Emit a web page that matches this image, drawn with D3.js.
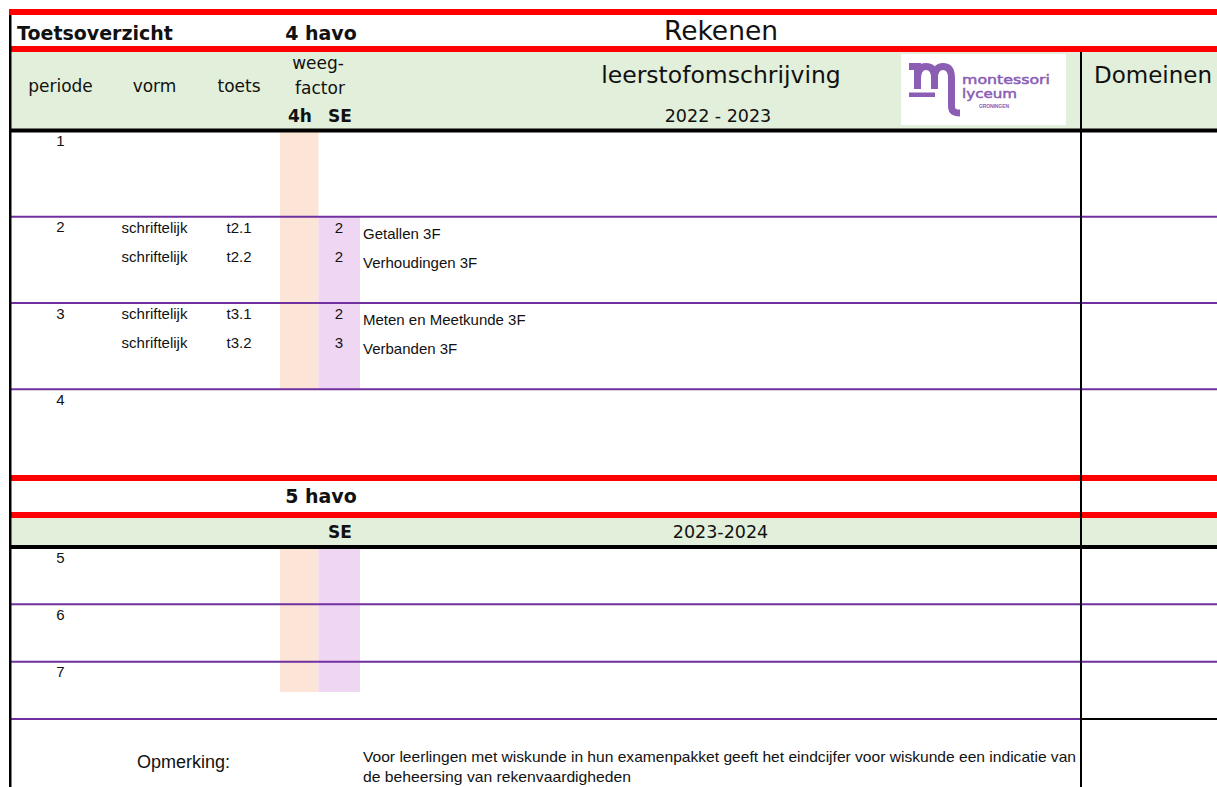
<!DOCTYPE html>
<html>
<head>
<meta charset="utf-8">
<script src="https://cdn.jsdelivr.net/npm/d3@7"></script>
<style>
  html, body { margin: 0; padding: 0; background: #ffffff; }
  svg { display: block; }
</style>
</head>
<body>
<svg id="chart" width="1217" height="787"></svg>
<script>
// ---------------- data ----------------
const title = "Rekenen";
const sheetTitle = "Toetsoverzicht";
const yearLabels = ["4 havo", "5 havo"];
const schoolYears = ["2022 - 2023", "2023-2024"];
const headerCols = ["periode", "vorm", "toets"];
const periods4 = ["1", "2", "3", "4"];
const periods5 = ["5", "6", "7"];
const testPeriod = ["2", "2", "3", "3"];
const testSlot = [0, 1, 0, 1];
const vorm = ["schriftelijk", "schriftelijk", "schriftelijk", "schriftelijk"];
const toets = ["t2.1", "t2.2", "t3.1", "t3.2"];
const weegSE = [2, 2, 2, 3];
const omschrijving = ["Getallen 3F", "Verhoudingen 3F", "Meten en Meetkunde 3F", "Verbanden 3F"];
const opmerkingLabel = "Opmerking:";
const opmerkingLines = [
  "Voor leerlingen met wiskunde in hun examenpakket geeft het eindcijfer voor wiskunde een indicatie van",
  "de beheersing van rekenvaardigheden"
];

// ---------------- layout ----------------
const W = 1217, H = 787;
const C = {
  red: "#ff0000", green: "#e2efda", peach: "#fce4d6", lilac: "#efd6f2",
  purple: "#7030a0", black: "#000000", logo: "#8b5db3", text: "#111111"
};
const HEAD = "'DejaVu Sans', Verdana, sans-serif";
const BODY = "'Liberation Sans', Arial, sans-serif";

const svg = d3.select("#chart");
const g = svg.append("g");

// row scales
const y4 = d3.scaleBand().domain(periods4).range([130.5, 475.5]);
const y5 = d3.scaleBand().domain(periods5).range([547, 719]);
// column scale
const colX = d3.scaleOrdinal()
  .domain(["periode", "vorm", "toets", "4h", "SE", "weight", "omschr", "mid", "dom"])
  .range([60.5, 154.5, 239, 300, 340, 343, 363, 721, 1094]);
const xLeft = 11, xDom = 1081, xRight = W;

// ---------------- backgrounds ----------------
g.append("rect").attr("x", xLeft).attr("y", 52).attr("width", xRight - xLeft).attr("height", 77).attr("fill", C.green);
g.append("rect").attr("x", xLeft).attr("y", 518).attr("width", xRight - xLeft).attr("height", 28).attr("fill", C.green);

const xPeach0 = 280, xPeach1 = 318.5, xLilac1 = 360;
g.append("rect").attr("x", xPeach0).attr("y", y4("1")).attr("width", xPeach1 - xPeach0)
  .attr("height", y4("2") - y4("1")).attr("fill", C.peach);
g.append("rect").attr("x", xPeach0).attr("y", y4("2")).attr("width", xPeach1 - xPeach0)
  .attr("height", y4("4") - y4("2")).attr("fill", C.peach);
g.append("rect").attr("x", xPeach1).attr("y", y4("2")).attr("width", xLilac1 - xPeach1)
  .attr("height", y4("4") - y4("2")).attr("fill", C.lilac);
g.append("rect").attr("x", xPeach0).attr("y", y5("5")).attr("width", xPeach1 - xPeach0)
  .attr("height", 692 - y5("5")).attr("fill", C.peach);
g.append("rect").attr("x", xPeach1).attr("y", y5("5")).attr("width", xLilac1 - xPeach1)
  .attr("height", 692 - y5("5")).attr("fill", C.lilac);

// ---------------- header texts ----------------
function txt(x, y, s, size, opts = {}) {
  return g.append("text").attr("x", x).attr("y", y).text(s)
    .attr("font-family", opts.family || HEAD)
    .attr("font-size", size)
    .attr("font-weight", opts.bold ? "bold" : "normal")
    .attr("text-anchor", opts.anchor || "start")
    .attr("fill", opts.fill || C.text);
}
txt(17, 39.5, sheetTitle, 19, { bold: true });
txt(321, 39.5, yearLabels[0], 19, { bold: true, anchor: "middle" });
txt(colX("mid"), 40, title, 26.5, { anchor: "middle" });

g.selectAll("text.hcol").data(headerCols).join("text").attr("class", "hcol")
  .attr("x", d => colX(d)).attr("y", 92).text(d => d)
  .attr("font-family", HEAD).attr("font-size", 17).attr("text-anchor", "middle").attr("fill", C.text);
txt(318, 69, "weeg-", 17, { anchor: "middle" });
txt(320, 94, "factor", 17, { anchor: "middle" });
txt(colX("4h"), 122, "4h", 17, { bold: true, anchor: "middle" });
txt(colX("SE"), 122, "SE", 17, { bold: true, anchor: "middle" });
txt(colX("mid"), 83, "leerstofomschrijving", 23.5, { anchor: "middle" });
txt(718, 122, schoolYears[0], 17.5, { anchor: "middle" });
txt(colX("dom"), 83, "Domeinen", 23, {});

txt(321, 503, yearLabels[1], 19, { bold: true, anchor: "middle" });
txt(colX("SE"), 538, "SE", 17, { bold: true, anchor: "middle" });
txt(720.5, 537.5, schoolYears[1], 17.5, { anchor: "middle" });

// ---------------- logo ----------------
const logo = g.append("g");
logo.append("rect").attr("x", 901).attr("y", 54).attr("width", 165).attr("height", 71).attr("fill", "#ffffff");
const mPath = "M909,66.5 H917.5 V89 M917.5,79 C917.5,70 921,66.5 926,66.5 C931.5,66.5 934.5,70 934.5,78 V89 " +
              "M934.5,78 C934.5,70 938,66.5 943,66.5 C948.5,66.5 951.5,70 951.5,78 V106 C951.5,111 954,113 960,113";
logo.append("path").attr("d", mPath).attr("fill", "none").attr("stroke", C.logo).attr("stroke-width", 7);
logo.append("rect").attr("x", 909).attr("y", 92.5).attr("width", 26).attr("height", 4.5).attr("fill", C.logo);
logo.append("text").attr("x", 962).attr("y", 84).text("montessori")
  .attr("font-family", HEAD).attr("font-size", 13).attr("fill", C.logo)
  .attr("stroke", C.logo).attr("stroke-width", 0.5)
  .attr("textLength", 88).attr("lengthAdjust", "spacingAndGlyphs");
logo.append("text").attr("x", 962).attr("y", 98).text("lyceum")
  .attr("font-family", HEAD).attr("font-size", 13).attr("fill", C.logo)
  .attr("stroke", C.logo).attr("stroke-width", 0.5)
  .attr("textLength", 55).attr("lengthAdjust", "spacingAndGlyphs");
logo.append("text").attr("x", 979).attr("y", 108).text("GRONINGEN")
  .attr("font-family", BODY).attr("font-weight", "bold").attr("font-size", 5).attr("fill", C.logo)
  .attr("textLength", 30);

// ---------------- body rows ----------------
const BS = 15;
g.selectAll("text.p4").data(periods4).join("text").attr("class", "p4")
  .attr("x", colX("periode")).attr("y", d => y4(d) + 15.5).text(d => d)
  .attr("font-family", BODY).attr("font-size", BS).attr("text-anchor", "middle").attr("fill", C.text);
g.selectAll("text.p5").data(periods5).join("text").attr("class", "p5")
  .attr("x", colX("periode")).attr("y", d => y5(d) + 15.5).text(d => d)
  .attr("font-family", BODY).attr("font-size", BS).attr("text-anchor", "middle").attr("fill", C.text);

const tests = toets.map((t, i) => ({ i, period: testPeriod[i], slot: testSlot[i] }));
const lineY = d => y4(d.period) + 16 + d.slot * 29;
const tg = g.selectAll("g.test").data(tests).join("g").attr("class", "test");
tg.append("text").attr("x", colX("vorm")).attr("y", lineY).text(d => vorm[d.i])
  .attr("text-anchor", "middle");
tg.append("text").attr("x", colX("toets")).attr("y", lineY).text(d => toets[d.i])
  .attr("text-anchor", "middle");
tg.append("text").attr("x", colX("weight")).attr("y", lineY).text(d => weegSE[d.i])
  .attr("text-anchor", "end");
tg.append("text").attr("x", colX("omschr")).attr("y", d => lineY(d) + 6).text(d => omschrijving[d.i])
  .attr("text-anchor", "start");
tg.selectAll("text").attr("font-family", BODY).attr("font-size", BS).attr("fill", C.text);

// footer
txt(137, 768, opmerkingLabel, 18, { family: BODY });
const footLens = [713, 268];
g.selectAll("text.foot").data(opmerkingLines).join("text").attr("class", "foot")
  .attr("x", colX("omschr")).attr("y", (d, i) => 762 + i * 20).text(d => d)
  .attr("font-family", BODY).attr("font-size", BS).attr("fill", C.text)
  .attr("textLength", (d, i) => footLens[i]).attr("lengthAdjust", "spacingAndGlyphs");

// ---------------- lines ----------------
const sep4 = periods4.slice(1).map(p => y4(p));
const sep5 = periods5.slice(1).map(p => y5(p));
g.selectAll("line.sep").data(sep4.concat(sep5)).join("line").attr("class", "sep")
  .attr("x1", xLeft).attr("x2", xRight).attr("y1", d => d).attr("y2", d => d)
  .attr("stroke", C.purple).attr("stroke-width", 2);
const yEnd = y5.range()[1];
g.append("line").attr("x1", xLeft).attr("x2", xDom).attr("y1", yEnd).attr("y2", yEnd)
  .attr("stroke", C.purple).attr("stroke-width", 2);
g.append("line").attr("x1", xDom).attr("x2", xRight).attr("y1", yEnd).attr("y2", yEnd)
  .attr("stroke", C.black).attr("stroke-width", 2);

[9, 46, 475, 512].forEach(y => {
  g.append("rect").attr("x", 9).attr("y", y).attr("width", W - 9).attr("height", 6).attr("fill", C.red);
});
g.append("rect").attr("x", 9).attr("y", 128.5).attr("width", W - 9).attr("height", 4).attr("fill", C.black);
g.append("rect").attr("x", 9).attr("y", 545).attr("width", W - 9).attr("height", 4).attr("fill", C.black);

g.append("rect").attr("x", 9).attr("y", 15).attr("width", 2.5).attr("height", H - 15).attr("fill", C.black);
g.append("rect").attr("x", 1080).attr("y", 52).attr("width", 2).attr("height", H - 52).attr("fill", C.black);
</script>
</body>
</html>
